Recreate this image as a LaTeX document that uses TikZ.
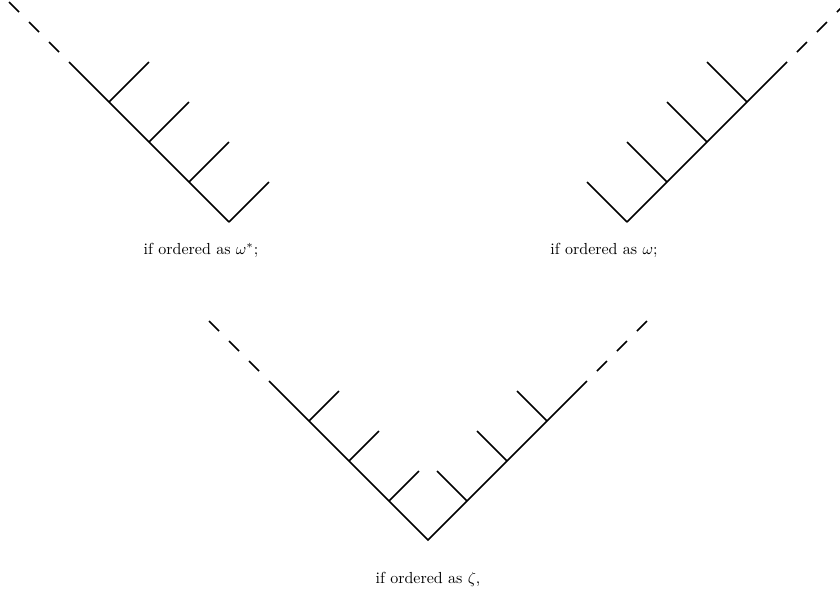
\documentclass[tikz,border=0pt]{standalone}
\begin{document}
\begin{tikzpicture}[x=0.625pt,y=-0.625pt,
  stem/.style={line width=1pt,line cap=butt},
  dashext/.style={line width=1pt,dash pattern=on 8.84pt off 8.84pt},
  lbl/.style={anchor=base,inner sep=0pt}]
\useasboundingbox (0,0) rectangle (840,595);
\clip (0,0) rectangle (840,595);
% top-left (omega*)
\coordinate (A0) at (229,222);
\coordinate (A1) at (189,182);
\coordinate (A2) at (149,142);
\coordinate (A3) at (109,102);
\coordinate (A4) at (69,62);
\coordinate (A5) at (9,2);
\draw[stem] (A0) -- (A4);
\draw[dashext] (A5) -- (A4);
\foreach \p in {A0,A1,A2,A3} \draw[stem] (\p) -- ++(40,-40);
% top-right (omega)
\coordinate (B0) at (627,222);
\coordinate (B1) at (667,182);
\coordinate (B2) at (707,142);
\coordinate (B3) at (747,102);
\coordinate (B4) at (787,62);
\coordinate (B5) at (847,2);
\draw[stem] (B0) -- (B4);
\draw[dashext] (B5) -- (B4);
\foreach \p in {B0,B1,B2,B3} \draw[stem] (\p) -- ++(-40,-40);
% bottom (zeta)
\coordinate (C0) at (428,540);
\coordinate (L1) at (389,501);
\coordinate (L2) at (349,461);
\coordinate (L3) at (309,421);
\coordinate (L4) at (269,381);
\coordinate (L5) at (209,321);
\coordinate (R1) at (467,501);
\coordinate (R2) at (507,461);
\coordinate (R3) at (547,421);
\coordinate (R4) at (587,381);
\coordinate (R5) at (647,321);
\draw[stem] (L4) -- (C0) -- (R4);
\draw[dashext] (L5) -- (L4);
\draw[dashext] (R5) -- (R4);
\foreach \p in {L1,L2,L3} \draw[stem] (\p) -- ++(30,-30);
\foreach \p in {R1,R2,R3} \draw[stem] (\p) -- ++(-30,-30);
% labels
\node[lbl] (t1) at (201,254) {if ordered as $\omega^*$;};
\node[lbl] (t2) at (604,254) {if ordered as $\omega$;};
\node[lbl] (t3) at (428,583) {if ordered as $\zeta$,};
\end{tikzpicture}
\end{document}
